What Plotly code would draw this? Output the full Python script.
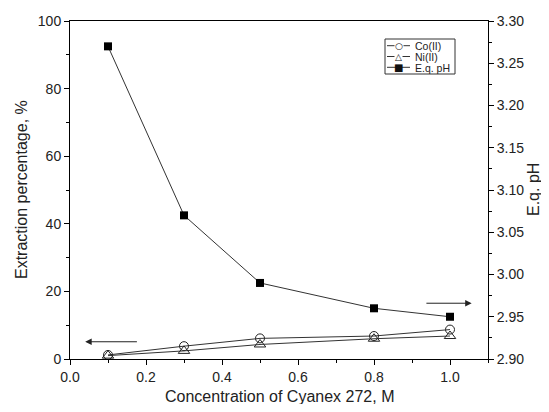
import plotly.graph_objects as go

conc = [0.1, 0.3, 0.5, 0.8, 1.0]
co = [1.2, 3.8, 6.1, 6.8, 8.7]
ni = [1.0, 2.4, 4.3, 6.0, 6.8]
ph = [3.27, 3.07, 2.99, 2.96, 2.95]
names = ["Co(II)", "Ni(II)", "E.q. pH"]
legend_symbols = ["○", "△", "■"]

FONT = "Liberation Sans, Arial, sans-serif"
lc = "#333333"

fig = go.Figure()
fig.add_trace(go.Scatter(x=conc, y=co, name=names[0], mode="lines+markers",
                         line=dict(color=lc, width=1),
                         marker=dict(symbol="circle-open", size=9, color="#222", line=dict(width=1))))
fig.add_trace(go.Scatter(x=conc, y=ni, name=names[1], mode="lines+markers",
                         line=dict(color=lc, width=1),
                         marker=dict(symbol="triangle-up-open", size=10, color="#222", line=dict(width=1))))
fig.add_trace(go.Scatter(x=conc, y=ph, name=names[2], mode="lines+markers", yaxis="y2",
                         line=dict(color=lc, width=1),
                         marker=dict(symbol="square", size=8, color="black")))

axcommon = dict(showgrid=False, zeroline=False, linecolor="black", linewidth=1,
                ticks="outside", ticklen=5, tickcolor="black", automargin=False,
                tickfont=dict(family=FONT, size=14, color="#222"))

# the page body has an 8px margin; size the figure so the page does not overflow the window
fig.update_layout(
    width=533, height=396,
    margin=dict(l=62, r=53, t=13, b=45, autoexpand=False),
    plot_bgcolor="white", paper_bgcolor="white",
    font=dict(family=FONT, color="#222"),
    showlegend=False,
    xaxis=dict(range=[0, 1.1], dtick=0.2, tick0=0, tickformat=".1f",
               minor=dict(dtick=0.1, ticks="outside", ticklen=3, tickcolor="black"),
               mirror=True, **axcommon),
    yaxis=dict(range=[0, 100], dtick=20,
               minor=dict(dtick=10, ticks="outside", ticklen=3, tickcolor="black"),
               **axcommon),
    yaxis2=dict(range=[2.90, 3.30], dtick=0.05, tickformat=".2f", overlaying="y", side="right",
                minor=dict(dtick=0.025, ticks="outside", ticklen=3, tickcolor="black"),
                **axcommon),
)

# plot area in window pixels: x 70..488, y 21..359
W, H = 418, 338
def px(x): return (x - 70) / W
def py(y): return (359 - y) / H

tfont = dict(family=FONT, size=16, color="#222")
fig.add_annotation(text="Concentration of Cyanex 272, M", x=0.5, y=py(396), xref="paper", yref="paper",
                   xanchor="center", yanchor="middle", showarrow=False, font=tfont)
fig.add_annotation(text="Extraction percentage, %", x=px(21), y=0.5, xref="paper", yref="paper",
                   xanchor="center", yanchor="middle", showarrow=False, textangle=-90, font=tfont)
fig.add_annotation(text="E.q. pH", x=px(533), y=0.5, xref="paper", yref="paper",
                   xanchor="center", yanchor="middle", showarrow=False, textangle=-90, font=tfont)

# arrows
fig.add_annotation(x=0.04, y=5.1, ax=0.18, ay=5.1, xref="x", yref="y", axref="x", ayref="y",
                   showarrow=True, arrowhead=2, arrowsize=1.3, arrowwidth=1, arrowcolor="#222", text="")
fig.add_annotation(x=1.057, y=2.966, ax=0.934, ay=2.966, xref="x", yref="y2", axref="x", ayref="y2",
                   showarrow=True, arrowhead=2, arrowsize=1.3, arrowwidth=1, arrowcolor="#222", text="")

# custom legend box
fig.add_shape(type="rect", xref="paper", yref="paper", x0=px(385), x1=px(455), y0=py(74), y1=py(39),
              line=dict(color="#333", width=1), fillcolor="white", layer="above")
rows = [45.7, 56.5, 67.3]
for sym, ry in zip(legend_symbols, rows):
    fig.add_shape(type="line", xref="paper", yref="paper", x0=px(387), x1=px(410), y0=py(ry), y1=py(ry),
                  line=dict(color="#333", width=1), layer="above")
    fig.add_annotation(text=sym, x=px(398.5), y=py(ry), xref="paper", yref="paper", showarrow=False,
                       xanchor="center", yanchor="middle",
                       bgcolor="white" if sym != "■" else None,
                       font=dict(family="DejaVu Sans", size=9 if sym != "■" else 10, color="#111"),
                       borderpad=0)
legend_text = "<br>".join(f"<span style='font-size:10.5px'>{n}</span>" for n in names)
fig.add_annotation(text=legend_text, x=px(414), y=py(rows[1]), xref="paper", yref="paper", showarrow=False,
                   xanchor="left", yanchor="middle", align="left", borderpad=0,
                   font=dict(family=FONT, size=8.3, color="#222"))

fig.write_html("out.html")
